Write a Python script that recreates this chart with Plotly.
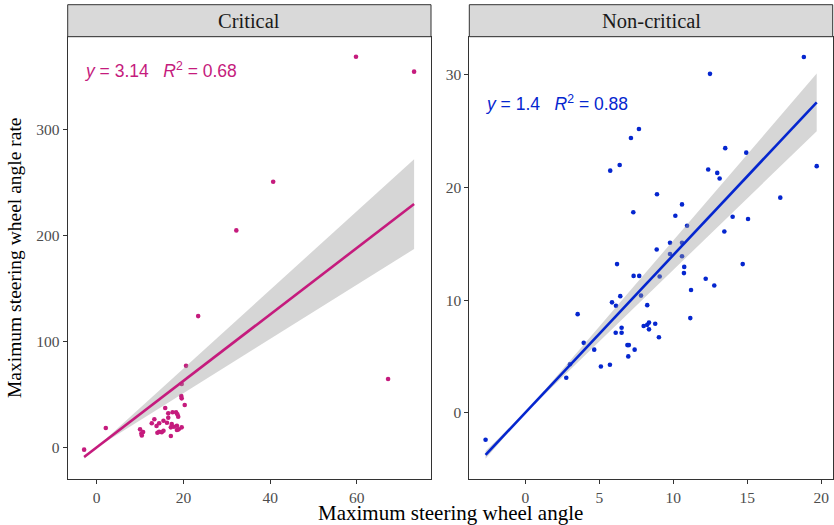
import numpy as np
import plotly.graph_objects as go

# ---------------- data ----------------
panels = ["Critical", "Non-critical"]

crit_x = [-2.9, 2.1, 10.0, 10.7, 10.3, 10.4, 12.7, 13.3, 13.8, 14.0, 14.4, 14.4, 15.0, 15.4,
          15.4, 15.8, 16.2, 16.5, 16.5, 17.1, 17.1, 17.3, 17.5, 17.8, 18.3, 18.5, 18.5, 18.6,
          18.8, 18.9, 19.5, 19.6, 19.6, 19.6, 20.3, 20.6, 23.4, 32.2, 40.7, 59.8, 67.2, 73.2]
crit_y = [-2.2, 18.3, 17.0, 14.5, 13.0, 11.3, 22.7, 26.5, 20.1, 13.8, 22.7, 14.7, 14.2, 25.1,
          15.7, 37.1, 23.3, 32.1, 28.0, 18.9, 10.7, 22.0, 33.1, 19.5, 33.1, 20.4, 16.4, 31.2,
          28.9, 17.0, 48.5, 46.3, 59.8, 18.9, 40.0, 77.0, 124.0, 205.0, 251.0, 369.0, 64.6, 355.0]

nc_x = [18.82, 12.48, 7.68, 7.14, 13.51, 14.93, 6.38, 5.74, 12.36, 12.97, 13.13, 19.69, 8.9,
        17.23, 10.59, 7.3, 10.14, 14.01, 15.05, 10.93, 13.45, 9.78, 10.59, 8.88, 9.78, 10.59,
        6.2, 14.69, 10.74, 10.72, 7.32, 7.7, 9.08, 12.19, 12.77, 11.2, 6.42, 7.82, 5.86, 6.13,
        8.24, 3.54, 11.15, 8.36, 8.24, 8.78, 8.0, 8.36, 6.51, 6.11, 6.51, 9.03, 3.95, 6.9, 7.0,
        4.66, 7.39, 6.96, 5.72, 5.11, 3.02, 2.77, -2.68]
nc_y = [31.6, 30.1, 25.2, 24.4, 23.5, 23.1, 22.0, 21.5, 21.6, 21.3, 20.8, 21.9, 19.4, 19.1,
        18.5, 17.8, 17.5, 17.4, 17.2, 16.6, 16.1, 15.1, 15.1, 14.5, 14.1, 13.9, 13.2, 13.2,
        12.95, 12.4, 12.15, 12.15, 12.1, 11.9, 11.3, 10.9, 10.35, 10.4, 9.8, 9.5, 9.55, 8.75,
        8.4, 8.0, 7.8, 7.9, 7.7, 7.4, 7.55, 7.1, 7.1, 6.7, 6.2, 6.0, 6.0, 5.6, 5.6, 5.0, 4.25,
        4.1, 4.3, 3.1, -2.4]

fit_slope = [3.14, 1.4]          # regression through origin (as labelled)
fit_r2 = [0.68, 0.88]
ci_coef = [0.58, 0.13]           # half-width of 95% CI per unit of x

x_ticks = [[0, 20, 40, 60], [0, 5, 10, 15, 20]]
y_ticks = [[0, 100, 200, 300], [0, 10, 20, 30]]
x_ranges = [[-6.69, 77.1], [-3.78, 20.77]]
y_ranges = [[-30.2, 388.0], [-5.92, 33.4]]

colors = ["#C51B7D", "#0526CF"]
xs_all = [crit_x, nc_x]
ys_all = [crit_y, nc_y]

# ---------------- layout geometry ----------------
W, H = 834, 525
x_domains = [[67.7 / W, 431.0 / W], [469.3 / W, 832.7 / W]]
y_domain = [(H - 479.3) / H, (H - 36.7) / H]
strip_top = (H - 4.7) / H

fig = go.Figure()

for i in range(2):
    xa = "x" if i == 0 else "x2"
    ya = "y" if i == 0 else "y2"
    x = np.array(xs_all[i])
    y = np.array(ys_all[i])
    # points
    fig.add_trace(go.Scatter(x=x, y=y, mode="markers", xaxis=xa, yaxis=ya,
                             marker=dict(color=colors[i], size=4.6, line=dict(width=0)),
                             showlegend=False, hoverinfo="skip"))
    # ribbon + line
    xg = np.linspace(x.min(), x.max(), 80)
    fit = fit_slope[i] * xg
    hw = ci_coef[i] * np.abs(xg)
    fig.add_trace(go.Scatter(x=np.concatenate([xg, xg[::-1]]),
                             y=np.concatenate([fit + hw, (fit - hw)[::-1]]),
                             mode="lines", fill="toself", xaxis=xa, yaxis=ya,
                             fillcolor="rgba(153,153,153,0.4)", line=dict(width=0),
                             showlegend=False, hoverinfo="skip"))
    fig.add_trace(go.Scatter(x=xg, y=fit, mode="lines", xaxis=xa, yaxis=ya,
                             line=dict(color=colors[i], width=2.6),
                             showlegend=False, hoverinfo="skip"))

axis_common = dict(showline=True, mirror=True, linecolor="#333333", linewidth=1,
                   ticks="outside", ticklen=4, tickwidth=1, tickcolor="#333333",
                   showgrid=False, zeroline=False,
                   tickfont=dict(family="Liberation Serif", size=15.5, color="#4D4D4D"))

layout_axes = {}
for i in range(2):
    sfx = "" if i == 0 else "2"
    layout_axes["xaxis" + sfx] = dict(axis_common, domain=x_domains[i], range=x_ranges[i],
                                      tickvals=x_ticks[i], anchor="y" + sfx)
    layout_axes["yaxis" + sfx] = dict(axis_common, domain=y_domain, range=y_ranges[i],
                                      tickvals=y_ticks[i], anchor="x" + sfx)

shapes = []
annotations = []
for i in range(2):
    shapes.append(dict(type="rect", xref="paper", yref="paper",
                       x0=x_domains[i][0], x1=x_domains[i][1], y0=y_domain[1], y1=strip_top,
                       fillcolor="#D9D9D9", line=dict(color="#333333", width=1)))
    annotations.append(dict(xref="paper", yref="paper",
                            x=(x_domains[i][0] + x_domains[i][1]) / 2,
                            y=(y_domain[1] + strip_top) / 2,
                            text=panels[i], showarrow=False, xanchor="center", yanchor="middle",
                            font=dict(family="Liberation Serif", size=20.5, color="#1A1A1A")))

# equation labels (data coords, top-left of each panel)
eq_pos = [(-3.2, 356.6), (-2.8, 27.5)]
nb = "\u00a0"
for i in range(2):
    xa = "x" if i == 0 else "x2"
    ya = "y" if i == 0 else "y2"
    txt = f"<i>y</i>{nb}={nb}{fit_slope[i]:g}{nb*3}<i>R</i><sup>2</sup>{nb}={nb}{fit_r2[i]:.2f}"
    annotations.append(dict(xref=xa, yref=ya, x=eq_pos[i][0], y=eq_pos[i][1], text=txt,
                            showarrow=False, xanchor="left", yanchor="middle",
                            font=dict(family="Liberation Sans", size=17.5, color=colors[i])))

annotations.append(dict(xref="paper", yref="paper", x=450 / W, y=(H - 512.5) / H,
                        text="Maximum steering wheel angle", showarrow=False,
                        xanchor="center", yanchor="middle",
                        font=dict(family="Liberation Serif", size=21, color="black")))
annotations.append(dict(xref="paper", yref="paper", x=14 / W, y=(H - 258) / H,
                        text="Maximum steering wheel angle rate", showarrow=False, textangle=-90,
                        xanchor="center", yanchor="middle",
                        font=dict(family="Liberation Serif", size=19.5, color="black")))

fig.update_layout(width=W, height=H, autosize=False,
                  margin=dict(l=0, r=0, t=0, b=0),
                  paper_bgcolor="white", plot_bgcolor="white",
                  shapes=shapes, annotations=annotations, **layout_axes)

fig.write_html("out.html")
